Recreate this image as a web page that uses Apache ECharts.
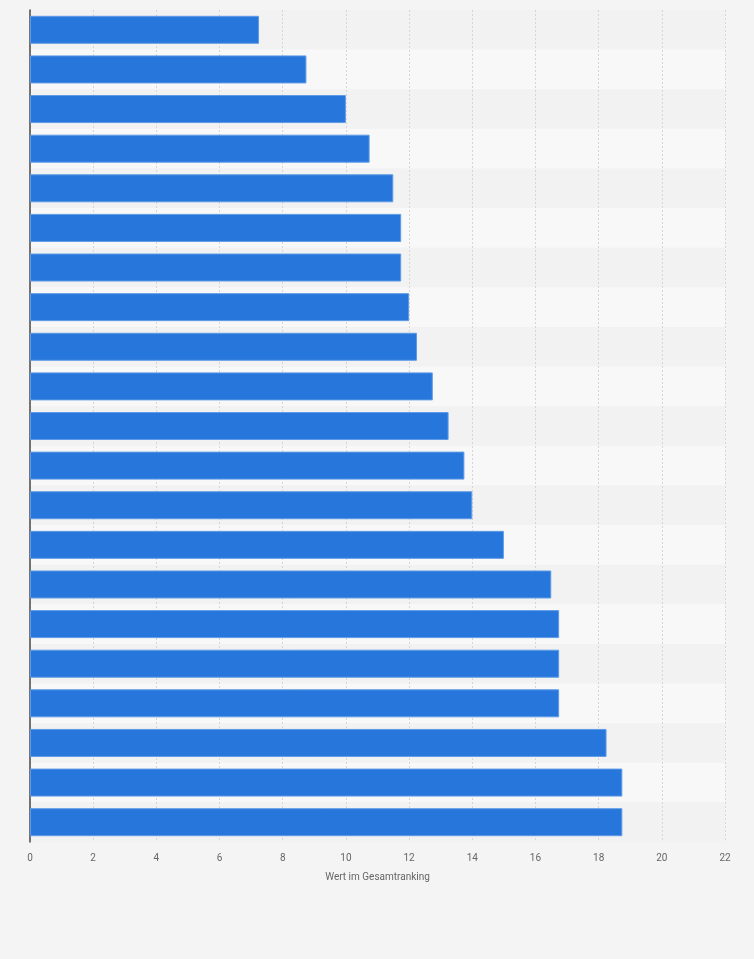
<!DOCTYPE html>
<html lang="de">

<head>
  <meta charset="UTF-8">
  <title>Gesamtranking</title>
  <style>
    body,
    html {
      margin: 0;
      padding: 0;
      background: #f4f4f4;
    }

    #chart {
      width: 754px;
      height: 959px;
    }
  </style>
</head>

<body>
  <div id="chart"></div>
  <script src="https://cdn.jsdelivr.net/npm/echarts@6/dist/echarts.min.js"></script>
  <script>
    // Kategorien ohne Beschriftung im Original
    var categories = ['1', '2', '3', '4', '5', '6', '7', '8', '9', '10', '11',
      '12', '13', '14', '15', '16', '17', '18', '19', '20', '21'];
    var values = [7.25, 8.75, 10, 10.75, 11.5, 11.75, 11.75, 12, 12.25, 12.75, 13.25,
      13.75, 14, 15, 16.5, 16.75, 16.75, 16.75, 18.25, 18.75, 18.75];
    var xTicks = { min: 0, max: 22, interval: 2 };
    var axisTitle = 'Wert im Gesamtranking';

    var myChart = echarts.init(document.getElementById('chart'));
    var option = {
      backgroundColor: '#f4f4f4',
      animation: false,
      grid: {
        left: 30,
        right: 29,
        top: 10,
        bottom: 117,
        containLabel: false
      },
      xAxis: {
        type: 'value',
        min: xTicks.min,
        max: xTicks.max,
        interval: xTicks.interval,
        name: axisTitle,
        nameLocation: 'middle',
        nameGap: 30,
        nameTextStyle: {
          color: '#666',
          fontSize: 10,
          fontFamily: 'Roboto, Arial, sans-serif'
        },
        axisLine: { show: false },
        axisTick: { show: false },
        axisLabel: {
          color: '#666',
          fontSize: 10,
          margin: 11,
          fontFamily: 'Roboto, Arial, sans-serif'
        },
        splitLine: {
          show: true,
          lineStyle: {
            color: '#d6d6d6',
            type: [2, 2],
            width: 1
          }
        }
      },
      yAxis: {
        type: 'category',
        data: categories,
        inverse: true,
        axisLine: {
          show: true,
          lineStyle: { color: '#4a4a4a', width: 1.5 }
        },
        axisTick: { show: false },
        axisLabel: { show: false },
        splitArea: {
          show: true,
          areaStyle: { color: ['#f2f2f2', '#f8f8f8'] }
        }
      },
      series: [{
        type: 'bar',
        data: values,
        barWidth: 28,
        itemStyle: {
          color: '#2776db',
          borderColor: '#5e9be6',
          borderWidth: 1
        }
      }]
    };
    myChart.setOption(option);
  </script>
</body>

</html>
